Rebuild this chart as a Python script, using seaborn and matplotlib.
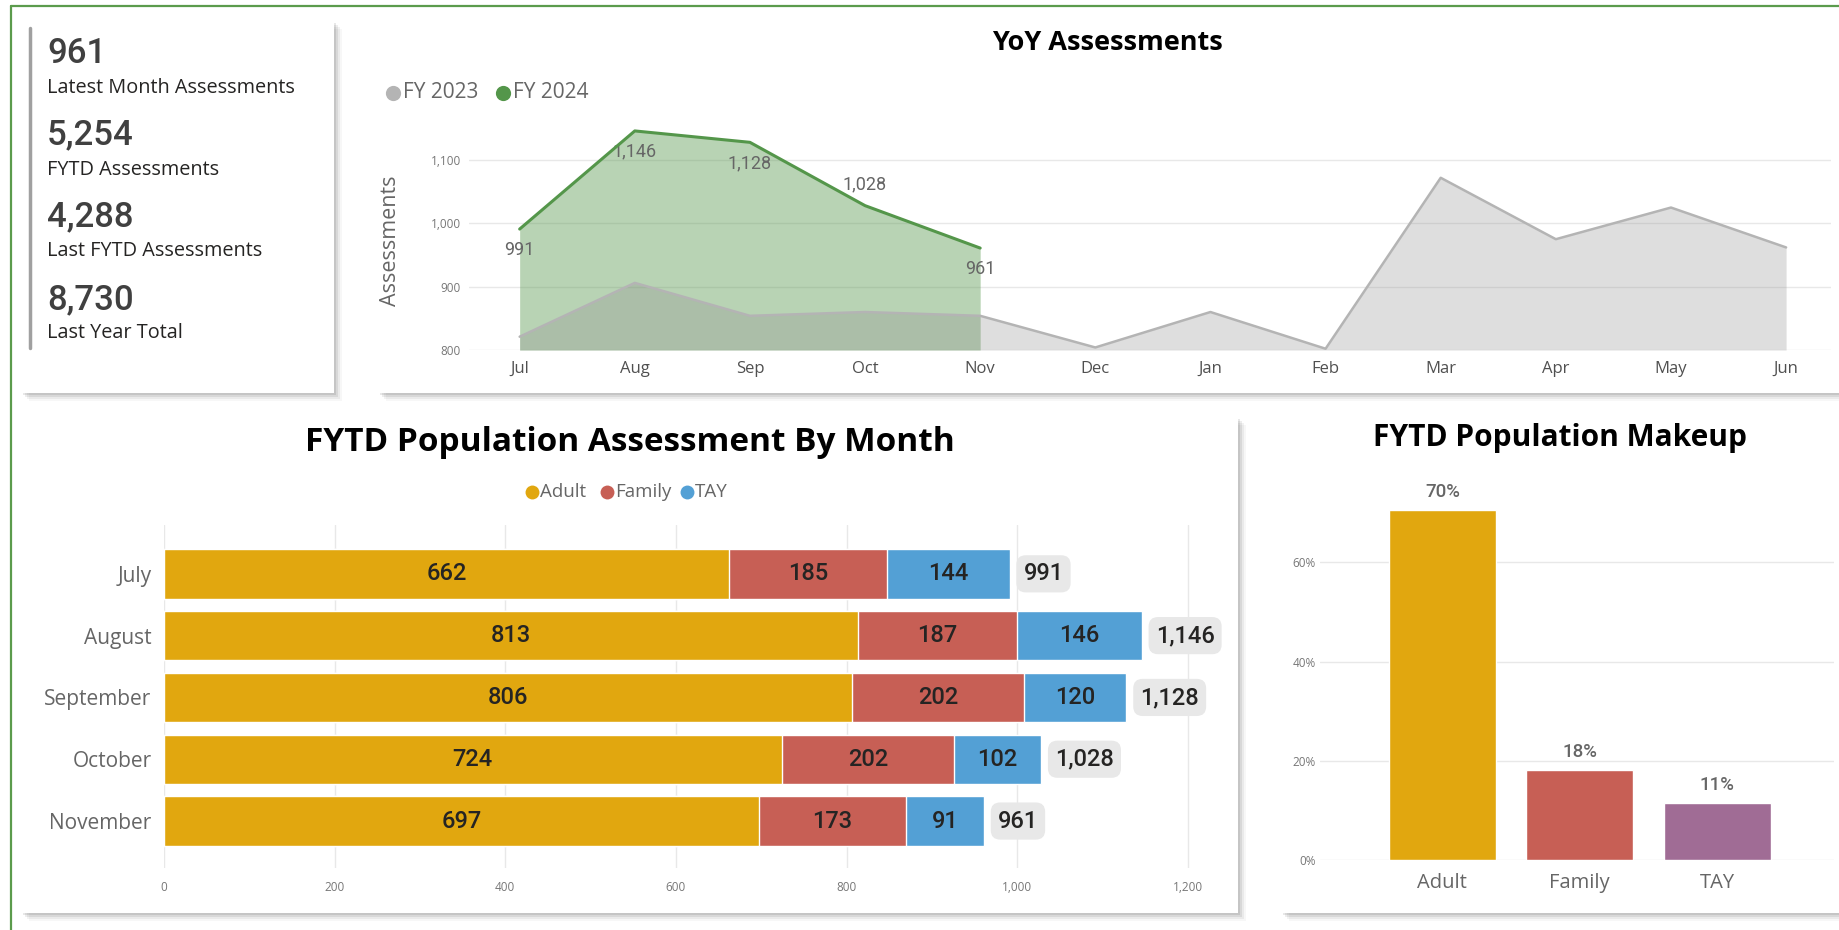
import numpy as np
import pandas as pd
import matplotlib
matplotlib.use("Agg")
import matplotlib.pyplot as plt
import seaborn as sns
from matplotlib.patches import Rectangle
from matplotlib.ticker import FuncFormatter

# ---------------------------
# DATA
# ---------------------------
kpi_values = ["961", "5,254", "4,288", "8,730"]
kpi_labels = ["Latest Month Assessments", "FYTD Assessments",
              "Last FYTD Assessments", "Last Year Total"]

fy_months = ["Jul", "Aug", "Sep", "Oct", "Nov", "Dec",
             "Jan", "Feb", "Mar", "Apr", "May", "Jun"]
fy2023 = [821, 906, 854, 860, 854, 804, 860, 802, 1072, 975, 1025, 962]
fy2024 = [991, 1146, 1128, 1028, 961]

months = ["July", "August", "September", "October", "November"]
adult = [662, 813, 806, 724, 697]
family = [185, 187, 202, 202, 173]
tay = [144, 146, 120, 102, 91]

groups = ["Adult", "Family", "TAY"]

# colours
ADULT = "#E1A70F"
FAMILY = "#C75F55"
TAY = "#53A0D5"
TAY_MAKEUP = "#A06C95"
GREEN = "#54964A"
GRAY_LINE = "#B4B4B4"
GRID = "#E8E8E8"
TXT = "#666666"

W, H = 1840, 930

sns.set_theme(style="white")
plt.rcParams["font.family"] = ["Open Sans", "DejaVu Sans"]
NUM_FONT = ["Roboto", "DejaVu Sans"]

fig = plt.figure(figsize=(W / 100, H / 100), dpi=100)
fig.patch.set_facecolor("white")


def px_axes(x0, y0, x1, y1):
    return fig.add_axes([x0 / W, 1 - y1 / H, (x1 - x0) / W, (y1 - y0) / H])


# background layer: border, cards, KPI text
bg = fig.add_axes([0, 0, 1, 1], zorder=-5)
bg.set_xlim(0, W)
bg.set_ylim(H, 0)
bg.axis("off")


def card(x0, y0, x1, y1):
    for i, a in enumerate([0.09, 0.07, 0.05, 0.03]):
        off = 2 + i * 2
        bg.add_patch(Rectangle((x0 + off, y0 + off), x1 - x0, y1 - y0,
                               facecolor="black", alpha=a, lw=0))
    bg.add_patch(Rectangle((x0, y0), x1 - x0, y1 - y0, facecolor="white", lw=0))


bg.plot([11, 11], [6, H], color="#5B9B4C", lw=1.6)
bg.plot([11, W], [6, 6], color="#5B9B4C", lw=1.6)

card(21, 21, 334, 393)
card(378, 21, W, 393)
card(21, 417, 1238, 913)
card(1281, 417, W, 913)

# ---------------------------
# KPI CARD
# ---------------------------
bg.plot([30, 30], [28, 348], color="#A0A0A0", lw=2.5)
num_base = [63, 144, 226, 309]
lab_base = [93, 175, 256, 338]
for v, lab, yb, yl in zip(kpi_values, kpi_labels, num_base, lab_base):
    bg.text(47, yb, v, fontsize=25, color="#404040", family=NUM_FONT,
            weight="medium", va="baseline")
    bg.text(47, yl, lab, fontsize=14.3, color="#252423", va="baseline")

# ---------------------------
# YoY ASSESSMENTS
# ---------------------------
ax1 = px_axes(469, 117, 1831, 350)
x23 = np.arange(len(fy2023))
x24 = np.arange(len(fy2024))
ax1.fill_between(x24, 800, fy2024, color=GREEN, alpha=0.41, lw=0, zorder=1)
ax1.fill_between(x23, 800, fy2023, color="#888888", alpha=0.27, lw=0, zorder=2)
sns.lineplot(x=x23, y=fy2023, color=GRAY_LINE, lw=1.8, ax=ax1, zorder=3)
sns.lineplot(x=x24, y=fy2024, color=GREEN, lw=2.2, ax=ax1, zorder=4)

label_side = [-1, -1, -1, 1, -1]
for xi, v, s in zip(x24, fy2024, label_side):
    ax1.annotate(f"{v:,}", (xi, v), xytext=(0, 15 * s), textcoords="offset points",
                 ha="center", va="center", fontsize=13, color=TXT, family=NUM_FONT)

ax1.set_xlim(-0.44, 11.39)
ax1.set_ylim(800, 1168)
ax1.set_xticks(x23)
ax1.set_xticklabels(fy_months)
ax1.set_yticks([800, 900, 1000, 1100])
ax1.yaxis.set_major_formatter(FuncFormatter(lambda v, p: f"{v:,.0f}"))
ax1.grid(axis="y", color=GRID, lw=1)
ax1.set_axisbelow(True)
for sp in ax1.spines.values():
    sp.set_visible(False)
ax1.tick_params(axis="x", length=0, pad=8, labelsize=12, labelcolor="#505050")
ax1.tick_params(axis="y", length=0, pad=6, labelsize=8.5, labelcolor="#777777")
ax1.set_xlabel("")
ax1.set_ylabel("Assessments", fontsize=15.5, color=TXT)
ax1.yaxis.set_label_coords(-0.05, 0.47)
ax1.patch.set_alpha(0)

bg.text(1107, 43, "YoY Assessments", fontsize=19.5, weight="bold", color="black",
        ha="center", va="center")
bg.scatter([393], [93], s=120, color="#B4B4B4", lw=0)
bg.text(403, 93, "FY 2023", fontsize=15, color=TXT, va="center")
bg.scatter([503], [93], s=120, color=GREEN, lw=0)
bg.text(513, 93, "FY 2024", fontsize=15, color=TXT, va="center")

# ---------------------------
# FYTD POPULATION BY MONTH
# ---------------------------
df = pd.DataFrame({"Month": months, "Adult": adult, "Family": family, "TAY": tay})
df["AdultFamily"] = df["Adult"] + df["Family"]
df["Total"] = df["AdultFamily"] + df["TAY"]

ax2 = px_axes(164, 525, 1222, 868)
for col, c in [("Total", TAY), ("AdultFamily", FAMILY), ("Adult", ADULT)]:
    sns.barplot(data=df, x=col, y="Month", color=c, orient="h", width=0.8,
                saturation=1, errorbar=None, ax=ax2, zorder=3)

for i, row in df.iterrows():
    centers = [row.Adult / 2, row.Adult + row.Family / 2, row.AdultFamily + row.TAY / 2]
    for cx, v in zip(centers, [row.Adult, row.Family, row.TAY]):
        ax2.text(cx, i, f"{v:,}", ha="center", va="center", fontsize=17,
                 color="#252423", family=NUM_FONT, weight="medium", zorder=5)
    ax2.annotate(f"{row.Total:,}", (row.Total, i), xytext=(10, 0),
                 textcoords="offset points", ha="left", va="center", fontsize=17,
                 color="#252423", family=NUM_FONT, weight="medium", zorder=5,
                 bbox=dict(boxstyle="round,pad=0.3,rounding_size=0.4",
                           fc="#E8E8E8", ec="none"))

ax2.set_xlim(0, 1240)
ax2.set_ylim(4.76, -0.79)
ax2.set_xticks([0, 200, 400, 600, 800, 1000, 1200])
ax2.xaxis.set_major_formatter(FuncFormatter(lambda v, p: f"{v:,.0f}"))
ax2.grid(axis="x", color=GRID, lw=1, zorder=0)
ax2.set_axisbelow(True)
for sp in ax2.spines.values():
    sp.set_visible(False)
ax2.tick_params(axis="y", length=0, pad=9, labelsize=15, labelcolor=TXT)
ax2.tick_params(axis="x", length=0, pad=9, labelsize=8.5, labelcolor="#777777")
ax2.set_xlabel("")
ax2.set_ylabel("")
ax2.patch.set_alpha(0)

bg.text(630, 442, "FYTD Population Assessment By Month", fontsize=24,
        weight="bold", color="black", ha="center", va="center")
leg_items = [("Adult", ADULT, 532), ("Family", FAMILY, 607), ("TAY", TAY, 687)]
for name, c, xd in leg_items:
    bg.scatter([xd], [492], s=100, color=c, lw=0)
    bg.text(xd + 8, 492, name, fontsize=13.5, color=TXT, va="center")

# ---------------------------
# FYTD POPULATION MAKEUP
# ---------------------------
totals = [sum(adult), sum(family), sum(tay)]
shares = [t / sum(totals) for t in totals]

ax3 = px_axes(1320, 481, 1834, 860)
sns.barplot(x=groups, y=shares, hue=groups, palette=[ADULT, FAMILY, TAY_MAKEUP],
            legend=False, width=0.78, saturation=1, ax=ax3, zorder=3)
for i, s in enumerate(shares):
    ax3.annotate(f"{int(s * 100)}%", (i, s), xytext=(0, 13), textcoords="offset points",
                 ha="center", va="center", fontsize=13.5, color=TXT,
                 family=NUM_FONT, weight="medium")

ax3.set_xlim(-0.89, 2.85)
ax3.set_ylim(0, 0.764)
ax3.set_yticks([0, 0.2, 0.4, 0.6])
ax3.yaxis.set_major_formatter(FuncFormatter(lambda v, p: f"{v:.0%}"))
ax3.grid(axis="y", color=GRID, lw=1, zorder=0)
ax3.set_axisbelow(True)
for sp in ax3.spines.values():
    sp.set_visible(False)
ax3.tick_params(axis="x", length=0, pad=9, labelsize=14.5, labelcolor=TXT)
ax3.tick_params(axis="y", length=0, pad=3, labelsize=8.5, labelcolor="#777777")
ax3.set_xlabel("")
ax3.set_ylabel("")
ax3.patch.set_alpha(0)

bg.text(1560, 438, "FYTD Population Makeup", fontsize=21.5, weight="bold",
        color="black", ha="center", va="center")

fig.savefig("out.png", dpi=100, facecolor="white")
